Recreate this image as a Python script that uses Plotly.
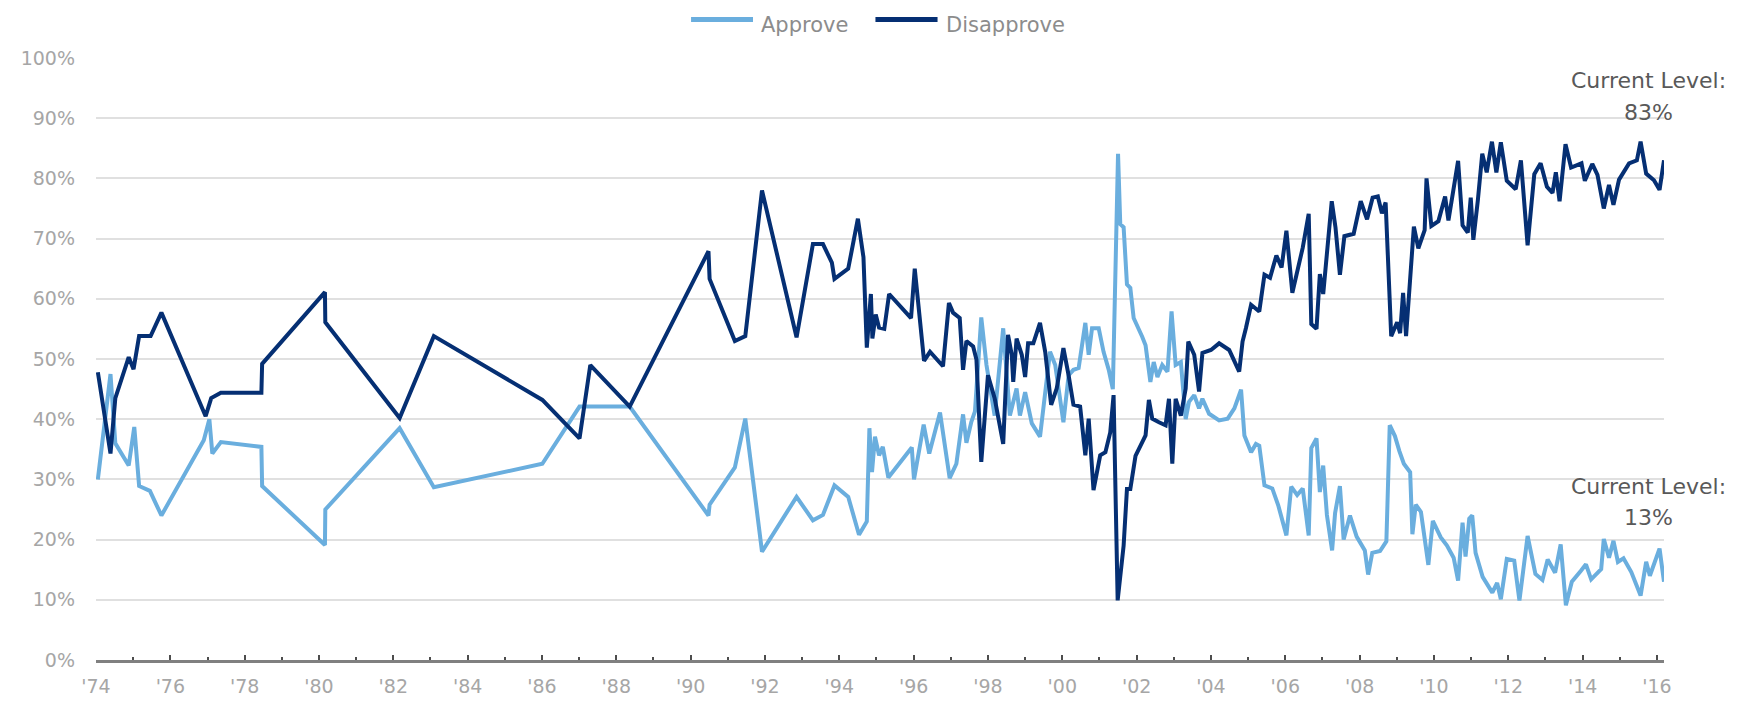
import plotly.graph_objects as go

# ---------------- data ----------------
approve_dates = [
    1974.05, 1974.39, 1974.52, 1974.88, 1975.03, 1975.16, 1975.45, 1975.76,
    1976.90, 1977.05, 1977.13, 1977.36, 1978.45, 1978.47, 1980.16, 1980.17,
    1982.17, 1983.09, 1986.01, 1987.01, 1987.30, 1988.36, 1990.48, 1990.51,
    1991.19, 1991.47, 1991.92, 1992.85, 1993.29, 1993.56, 1993.87, 1994.24,
    1994.53, 1994.74, 1994.81, 1994.88, 1994.96, 1995.07, 1995.17, 1995.32,
    1995.95, 1996.01, 1996.27, 1996.42, 1996.71, 1996.97, 1997.15, 1997.33,
    1997.42, 1997.55, 1997.65, 1997.82, 1997.96, 1998.18, 1998.41, 1998.59,
    1998.77, 1998.86, 1999.00, 1999.18, 1999.40, 1999.67, 1999.81, 2000.03,
    2000.17, 2000.30, 2000.44, 2000.62, 2000.71, 2000.80, 2000.98, 2001.11,
    2001.25, 2001.36, 2001.50, 2001.56, 2001.65, 2001.74, 2001.83, 2001.92,
    2002.15, 2002.24, 2002.37, 2002.46, 2002.56, 2002.69, 2002.83, 2002.94,
    2003.05, 2003.19, 2003.32, 2003.41, 2003.55, 2003.68, 2003.77, 2003.95,
    2004.22, 2004.45, 2004.63, 2004.81, 2004.90, 2005.08, 2005.21, 2005.30,
    2005.44, 2005.65, 2005.81, 2006.03, 2006.16, 2006.32, 2006.47, 2006.63,
    2006.70, 2006.84, 2006.93, 2007.02, 2007.12, 2007.26, 2007.34, 2007.47,
    2007.57, 2007.74, 2007.92, 2008.14, 2008.23, 2008.34, 2008.55, 2008.72,
    2008.81, 2008.95, 2009.07, 2009.19, 2009.36, 2009.42, 2009.51, 2009.65,
    2009.85, 2009.97, 2010.18, 2010.35, 2010.53, 2010.65, 2010.77, 2010.85,
    2010.95, 2011.03, 2011.12, 2011.31, 2011.57, 2011.70, 2011.80, 2011.96,
    2012.16, 2012.30, 2012.52, 2012.73, 2012.92, 2013.06, 2013.26, 2013.41,
    2013.55, 2013.71, 2013.95, 2014.09, 2014.23, 2014.50, 2014.57, 2014.71,
    2014.83, 2014.95, 2015.10, 2015.31, 2015.56, 2015.71, 2015.81, 2016.07,
    2016.19,
]
approve = [
    30, 47.5, 36, 32.3, 38.7, 28.9, 28.1, 24,
    36.5, 40, 34.3, 36.2, 35.4, 28.9, 19.1, 25,
    38.5, 28.7, 32.6, 42.1, 42.1, 42.1, 24, 25.8,
    32, 40.1, 18, 27.1, 23.2, 24.1, 29, 27.1,
    20.8, 23, 38.5, 31.2, 37.1, 34, 35.4, 30.3,
    35.3, 30, 39.1, 34.3, 41.1, 30.2, 32.6, 40.8,
    36.1, 39.5, 41.3, 56.9, 49, 40.6, 55.1, 40.6,
    45.1, 40.6, 44.5, 39.3, 37.1, 51.2, 49, 39.5,
    47.3, 48.2, 48.5, 56, 50.7, 55.1, 55.1, 51.2,
    48.2, 45, 84.1, 72.4, 71.9, 62.4, 61.8, 56.8,
    53.7, 52.3, 46.2, 49.5, 47, 49, 47.9, 57.9,
    49, 49.5, 40, 42.9, 44, 41.8, 43.4, 40.9,
    39.8, 40.1, 41.8, 44.9, 37.3, 34.5, 35.9, 35.6,
    29, 28.5, 25.7, 20.7, 28.8, 27.4, 28.5, 20.7,
    35.2, 36.8, 27.9, 32.3, 24.1, 18.2, 24.4, 28.9,
    20, 24, 20.5, 18.2, 14.2, 17.8, 18.1, 19.7,
    39, 37.2, 34.7, 32.6, 31.2, 20.9, 25.8, 24.6,
    15.8, 23.1, 20.4, 19, 17, 13.2, 22.8, 17.2,
    23.5, 24, 17.8, 13.8, 11.2, 12.8, 10.1, 16.8,
    16.5, 9.9, 20.6, 14.3, 13.3, 16.7, 14.5, 19.2,
    9.1, 13, 14.8, 15.9, 13.4, 15.1, 20.1, 17,
    19.8, 16.3, 16.9, 14.6, 10.7, 16.3, 14, 18.5,
    13,
]

disapprove_dates = [
    1974.05, 1974.39, 1974.52, 1974.88, 1975.01, 1975.16, 1975.47, 1975.76,
    1976.95, 1977.10, 1977.36, 1978.45, 1978.47, 1980.16, 1980.17, 1982.17,
    1983.09, 1986.01, 1987.01, 1987.30, 1988.36, 1990.48, 1990.51, 1991.19,
    1991.47, 1991.92, 1992.85, 1993.29, 1993.56, 1993.80, 1993.87, 1994.24,
    1994.50, 1994.65, 1994.74, 1994.85, 1994.89, 1994.98, 1995.07, 1995.21,
    1995.34, 1995.93, 1996.03, 1996.28, 1996.44, 1996.79, 1996.95, 1997.06,
    1997.24, 1997.33, 1997.42, 1997.60, 1997.69, 1997.82, 1998.00, 1998.18,
    1998.41, 1998.54, 1998.64, 1998.68, 1998.77, 1998.91, 1999.00, 1999.08,
    1999.22, 1999.40, 1999.54, 1999.70, 1999.85, 2000.03, 2000.17, 2000.30,
    2000.48, 2000.62, 2000.71, 2000.84, 2001.02, 2001.16, 2001.29, 2001.38,
    2001.49, 2001.65, 2001.74, 2001.83, 2001.97, 2002.15, 2002.24, 2002.33,
    2002.42, 2002.60, 2002.78, 2002.87, 2002.96, 2003.05, 2003.19, 2003.32,
    2003.39, 2003.55, 2003.68, 2003.77, 2004.00, 2004.22, 2004.49, 2004.76,
    2004.85, 2004.94, 2005.08, 2005.30, 2005.44, 2005.59, 2005.76, 2005.90,
    2006.03, 2006.19, 2006.33, 2006.47, 2006.63, 2006.70, 2006.84, 2006.93,
    2007.02, 2007.16, 2007.25, 2007.35, 2007.47, 2007.59, 2007.84, 2008.03,
    2008.20, 2008.35, 2008.49, 2008.60, 2008.70, 2008.85, 2009.01, 2009.09,
    2009.17, 2009.25, 2009.46, 2009.58, 2009.75, 2009.80, 2009.93, 2010.12,
    2010.30, 2010.39, 2010.50, 2010.65, 2010.77, 2010.91, 2010.99, 2011.06,
    2011.18, 2011.30, 2011.42, 2011.56, 2011.68, 2011.80, 2011.96, 2012.20,
    2012.34, 2012.52, 2012.70, 2012.87, 2013.04, 2013.19, 2013.28, 2013.38,
    2013.54, 2013.69, 2013.97, 2014.06, 2014.26, 2014.40, 2014.57, 2014.71,
    2014.83, 2014.98, 2015.25, 2015.46, 2015.56, 2015.71, 2015.92, 2016.07,
    2016.19,
]
disapprove = [
    47.8, 34.3, 43.5, 50.3, 48.3, 53.8, 53.8, 57.7,
    40.5, 43.5, 44.4, 44.4, 49.2, 61.1, 56.1, 40.2,
    53.8, 43.2, 36.8, 49, 42.1, 67.9, 63.3, 53,
    53.8, 78, 53.6, 69.1, 69.1, 66, 63.3, 65,
    73.3, 66.9, 51.9, 60.8, 53.4, 57.4, 55.2, 55,
    60.8, 56.8, 65, 49.7, 51.2, 48.8, 59.3, 57.7,
    56.8, 48.2, 53, 52.1, 49.9, 32.9, 47.3, 43.5,
    35.9, 54, 50.7, 46.2, 53.4, 50.7, 47, 52.6,
    52.6, 56, 51.2, 42.4, 45.1, 51.8, 47.3, 42.4,
    42.1, 34, 40.1, 28.2, 34, 34.5, 37.8, 44,
    9.9, 19, 28.4, 28.4, 33.9, 36.2, 37.3, 43.2,
    40.1, 39.5, 39, 43.4, 32.6, 43.4, 40.6, 45.1,
    52.9, 50.7, 44.6, 51, 51.5, 52.6, 51.5, 47.9,
    52.9, 55.1, 59, 57.9, 64, 63.5, 67.2, 65.2,
    71.3, 61, 64.9, 68.5, 74.1, 55.8, 55, 64.1,
    60.8, 71, 76.2, 71.9, 64, 70.4, 70.8, 76.2,
    73.2, 76.8, 77, 74.2, 76, 53.8, 56.1, 54.3,
    61, 53.8, 72, 68.4, 71.4, 80, 72.1, 72.9,
    77, 73, 77.4, 82.9, 72.2, 71, 76.8, 69.8,
    76.3, 84.1, 81, 86.1, 81, 86, 79.6, 78.2,
    83, 68.9, 80.7, 82.5, 78.6, 77.6, 81, 76.2,
    85.7, 81.8, 82.5, 79.6, 82.4, 80.6, 75, 78.9,
    75.6, 79.8, 82.5, 83, 86.1, 80.8, 79.7, 78.1,
    83,
]

# axis ticks / labels
tick_years = list(range(1974, 2017, 2))
tick_labels = ["'" + str(y)[2:] for y in tick_years]
minor_years = list(range(1975, 2016, 2))
y_ticks = list(range(0, 101, 10))
y_labels = [f"{v}%" for v in y_ticks]

series_names = ["Approve", "Disapprove"]
series_colors = ["#6aaede", "#052f73"]
current_levels = [approve[-1], disapprove[-1]]

# ---------------- figure ----------------
FONT = "'DejaVu Sans', sans-serif"
TICK_GREY = "#a6a6a6"
fig = go.Figure()
fig.add_trace(go.Scatter(x=approve_dates, y=approve, mode="lines",
                         name=series_names[0], showlegend=False,
                         line=dict(color=series_colors[0], width=4)))
fig.add_trace(go.Scatter(x=disapprove_dates, y=disapprove, mode="lines",
                         name=series_names[1], showlegend=False,
                         line=dict(color=series_colors[1], width=4)))

# legend drawn above the plot (long line samples as in the original)
legend_items = [
    (series_names[0], series_colors[0], 0.3795, 0.4190, 0.4228),
    (series_names[1], series_colors[1], 0.4971, 0.5367, 0.5405),
]
for name, color, x0, x1, xt in legend_items:
    fig.add_shape(type="line", xref="paper", yref="paper",
                  x0=x0, x1=x1, y0=1.0640, y1=1.0640,
                  line=dict(color=color, width=5))
    fig.add_annotation(x=xt, y=1.0540, xref="paper", yref="paper",
                       text=name, showarrow=False, xanchor="left",
                       yanchor="middle",
                       font=dict(family=FONT, size=21, color="#8c8c8c"))

# "Current Level" labels
for y_head, y_val, val in [(96.3, 91.0, current_levels[1]),
                           (28.9, 23.7, current_levels[0])]:
    fig.add_annotation(x=2015.78, y=y_head, xref="x", yref="y",
                       text="Current Level:", showarrow=False,
                       xanchor="center", yanchor="middle",
                       font=dict(family=FONT, size=22, color="#595959"))
    fig.add_annotation(x=2015.78, y=y_val, xref="x", yref="y",
                       text=f"{val:.0f}%", showarrow=False,
                       xanchor="center", yanchor="middle",
                       font=dict(family=FONT, size=22, color="#595959"))

fig.update_layout(
    width=1739, height=714,
    margin=dict(l=88, r=83, t=50, b=62, autoexpand=False),
    paper_bgcolor="white", plot_bgcolor="white",
    font=dict(family=FONT, size=19, color=TICK_GREY),
    showlegend=False,
    xaxis=dict(
        range=[1974.0, 2016.19],
        tickmode="array", tickvals=tick_years, ticktext=tick_labels,
        ticks="inside", ticklen=5, tickwidth=2, tickcolor="#4d4d4d",
        showline=True, linecolor="#808080", linewidth=3,
        showgrid=False, zeroline=False,
        tickfont=dict(family=FONT, size=19, color=TICK_GREY),
        ticklabelstandoff=7,
        minor=dict(tickmode="array", tickvals=minor_years, ticks="inside",
                   ticklen=3, tickwidth=2, tickcolor="#4d4d4d", showgrid=False),
    ),
    yaxis=dict(
        range=[0, 100],
        tickmode="array", tickvals=y_ticks, ticktext=y_labels,
        showgrid=True, gridcolor="#e0e0e0", gridwidth=2,
        zeroline=False, showline=False, ticks="",
        tickfont=dict(family=FONT, size=19, color=TICK_GREY),
        ticklabelstandoff=20,
    ),
)

fig.write_html("out.html")
